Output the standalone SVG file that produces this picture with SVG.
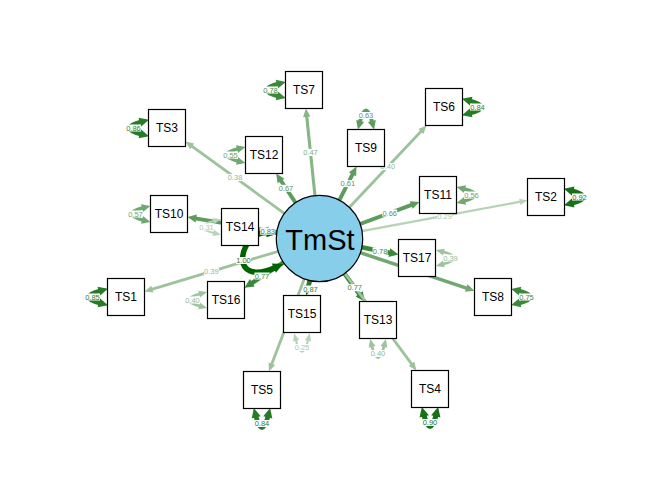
<svg xmlns="http://www.w3.org/2000/svg" width="672" height="480" viewBox="0 0 672 480">
  <style>
    .bg { fill: #ffffff; }
    .n rect { fill: #ffffff; stroke: #000000; stroke-width: 1.2; }
    .n text { font-family: "Liberation Sans", Arial, sans-serif; font-size: 12px; text-anchor: middle; fill: #000000; }
    #TmSt circle { fill: #87ceeb; stroke: #000000; stroke-width: 1.2; }
    #TmSt text { font-family: "Liberation Sans", Arial, sans-serif; font-size: 29px; text-anchor: middle; fill: #000000; }
    .c line, .c path, .c use { fill: none; stroke-linecap: butt; }
    .k1 { stroke: #b8d4b8; stroke-width: 2.3; }
    .k2 { stroke: #9cc39c; stroke-width: 2.8; }
    .k3 { stroke: #87b687; stroke-width: 3.1; }
    .k4 { stroke: #70a870; stroke-width: 3.5; }
    .k5 { stroke: #5c9c5c; stroke-width: 3.9; }
    .k6 { stroke: #3b883b; stroke-width: 4.5; }
    .k7 { stroke: #267b26; stroke-width: 4.8; }
    .k8 { stroke: #177217; stroke-width: 5.1; }
    .k9 { stroke: #006400; stroke-width: 5.5; }
    .e .k1 { marker-end: url(#m1); } .e .k2 { marker-end: url(#m2); } .e .k3 { marker-end: url(#m3); }
    .e .k4 { marker-end: url(#m4); } .e .k5 { marker-end: url(#m5); } .e .k6 { marker-end: url(#m6); }
    .e .k7 { marker-end: url(#m7); }
    .r .k1 { marker-start: url(#m1); marker-end: url(#m1); }
    .r .k2 { marker-start: url(#m2); marker-end: url(#m2); }
    .r .k4 { marker-start: url(#m4); marker-end: url(#m4); }
    .r .k5 { marker-start: url(#m5); marker-end: url(#m5); }
    .r .k6 { marker-start: url(#m6); marker-end: url(#m6); }
    .r .k7 { marker-start: url(#m7); marker-end: url(#m7); }
    .r .k8 { marker-start: url(#m8); marker-end: url(#m8); }
    .r .k9 { marker-start: url(#m9); marker-end: url(#m9); }
    .lab text { font-family: "Liberation Sans", Arial, sans-serif; font-size: 7.5px; text-anchor: middle; }
    .t1 { fill: #a9c9a9; } .t2 { fill: #92bb92; } .t3 { fill: #80b080; } .t4 { fill: #6ca46c; }
    .t5 { fill: #5a985a; } .t6 { fill: #3f8a3f; } .t7 { fill: #2e7e2e; } .t8 { fill: #237523; } .t9 { fill: #3d6b1a; }
  </style>
  <defs>
    <marker id="m1" markerUnits="userSpaceOnUse" orient="auto-start-reverse" overflow="visible" markerWidth="10" markerHeight="10" refX="2.34" refY="0"><path d="M0,-3.2L7.8,0L0,3.2Z" fill="#b8d4b8"/></marker>
    <marker id="m2" markerUnits="userSpaceOnUse" orient="auto-start-reverse" overflow="visible" markerWidth="10" markerHeight="10" refX="2.46" refY="0"><path d="M0,-3.5L8.2,0L0,3.5Z" fill="#9cc39c"/></marker>
    <marker id="m3" markerUnits="userSpaceOnUse" orient="auto-start-reverse" overflow="visible" markerWidth="10" markerHeight="10" refX="2.52" refY="0"><path d="M0,-3.7L8.4,0L0,3.7Z" fill="#87b687"/></marker>
    <marker id="m4" markerUnits="userSpaceOnUse" orient="auto-start-reverse" overflow="visible" markerWidth="10" markerHeight="10" refX="2.61" refY="0"><path d="M0,-3.9L8.7,0L0,3.9Z" fill="#70a870"/></marker>
    <marker id="m5" markerUnits="userSpaceOnUse" orient="auto-start-reverse" overflow="visible" markerWidth="10" markerHeight="10" refX="2.67" refY="0"><path d="M0,-4.1L8.9,0L0,4.1Z" fill="#5c9c5c"/></marker>
    <marker id="m6" markerUnits="userSpaceOnUse" orient="auto-start-reverse" overflow="visible" markerWidth="10" markerHeight="10" refX="2.79" refY="0"><path d="M0,-4.45L9.3,0L0,4.45Z" fill="#3b883b"/></marker>
    <marker id="m7" markerUnits="userSpaceOnUse" orient="auto-start-reverse" overflow="visible" markerWidth="10" markerHeight="10" refX="2.88" refY="0"><path d="M0,-4.65L9.6,0L0,4.65Z" fill="#267b26"/></marker>
    <marker id="m8" markerUnits="userSpaceOnUse" orient="auto-start-reverse" overflow="visible" markerWidth="10" markerHeight="10" refX="2.91" refY="0"><path d="M0,-4.8L9.7,0L0,4.8Z" fill="#177217"/></marker>
    <marker id="m9" markerUnits="userSpaceOnUse" orient="auto-start-reverse" overflow="visible" markerWidth="10" markerHeight="10" refX="3" refY="0"><path d="M0,-5L10,0L0,5Z" fill="#006400"/></marker>
    <!-- variance loop drawn to the right of a box edge at the origin -->
    <path id="res" d="M6,-6.5Q32,0 6,6.5" fill="none"/>
  </defs>

  <rect class="bg" x="0" y="0" width="672" height="480"/>

  <g id="connectors" class="c">
    <!-- loadings from the latent factor -->
    <g class="e">
      <line class="k3" x1="319.5" y1="239" x2="306.5" y2="114.35"/>
      <line class="k2" x1="319.5" y1="239" x2="190.1" y2="144.9"/>
      <line class="k5" x1="319.5" y1="239" x2="279.6" y2="178.7"/>
      <line class="k5" x1="319.5" y1="239" x2="353.7" y2="172.05"/>
      <line class="k2" x1="319.5" y1="239" x2="422.6" y2="129.7"/>
      <line class="k5" x1="319.5" y1="239" x2="413.7" y2="204.1"/>
      <line class="k1" x1="319.5" y1="239" x2="522.1" y2="201.4"/>
      <line class="k6" x1="319.5" y1="239" x2="392.1" y2="253.2"/>
      <line class="k4" x1="319.5" y1="239" x2="468.7" y2="288.9"/>
      <line class="k6" x1="319.5" y1="239" x2="360.8" y2="296.2"/>
      <line class="k2" x1="319.5" y1="239" x2="413" y2="365.9"/>
      <line class="k7" x1="319.5" y1="239" x2="307.8" y2="289"/>
      <line class="k2" x1="319.5" y1="239" x2="271" y2="366.1"/>
      <line class="k6" x1="319.5" y1="239" x2="249.95" y2="284.3"/>
      <line class="k2" x1="319.5" y1="239" x2="150" y2="289.85"/>
      <line class="k7" x1="319.5" y1="239" x2="265.1" y2="230.8"/>
      <line class="k5" x1="319.5" y1="239" x2="193.6" y2="218.1"/>
    </g>

    <!-- variances (double-headed loops) -->
    <g class="r">
      <path class="k9" d="M270.1,232.9C240,228 225,290 276.6,266.9"/>
      <use href="#res" class="k6" transform="translate(285.5,90) rotate(180)"/>
      <use href="#res" class="k7" transform="translate(148.5,128) rotate(180)"/>
      <use href="#res" class="k4" transform="translate(245.5,155) rotate(180)"/>
      <use href="#res" class="k5" transform="translate(366,129.5) rotate(-90)"/>
      <use href="#res" class="k7" transform="translate(462.5,107)"/>
      <use href="#res" class="k4" transform="translate(456.5,195)"/>
      <use href="#res" class="k8" transform="translate(564.5,197)"/>
      <use href="#res" class="k2" transform="translate(435.5,258)"/>
      <use href="#res" class="k6" transform="translate(511.5,297)"/>
      <use href="#res" class="k2" transform="translate(378,338.5) rotate(90)"/>
      <use href="#res" class="k8" transform="translate(430,407.5) rotate(90)"/>
      <use href="#res" class="k1" transform="translate(302,332.5) rotate(90)"/>
      <use href="#res" class="k7" transform="translate(262,408.5) rotate(90)"/>
      <use href="#res" class="k2" transform="translate(207.5,300) rotate(180)"/>
      <use href="#res" class="k7" transform="translate(107.5,297) rotate(180)"/>
      <use href="#res" class="k4" transform="translate(150.5,214) rotate(180)"/>
      <use href="#res" class="k1" transform="translate(221.5,227) rotate(180)"/>
    </g>

    <!-- edge labels -->
    <g class="lab">
      <rect class="bg" x="303" y="148.9" width="15" height="7"/><text class="t3" x="310.5" y="155.1">0.47</text>
      <rect class="bg" x="227.6" y="174.1" width="15" height="7"/><text class="t2" x="235.1" y="180.3">0.38</text>
      <rect class="bg" x="278.5" y="184.8" width="15" height="7"/><text class="t5" x="286" y="191">0.67</text>
      <rect class="bg" x="340.3" y="180.1" width="15" height="7"/><text class="t5" x="347.8" y="186.3">0.61</text>
      <rect class="bg" x="380.3" y="163.1" width="15" height="7"/><text class="t2" x="387.8" y="169.3">0.40</text>
      <rect class="bg" x="382.2" y="209.5" width="15" height="7"/><text class="t5" x="389.7" y="215.7">0.66</text>
      <rect class="bg" x="437.1" y="212.3" width="15" height="7"/><text class="t1" x="444.6" y="218.5">0.29</text>
      <rect class="bg" x="372.6" y="247.3" width="15" height="7"/><text class="t6" x="380.1" y="253.5">0.78</text>
      <rect class="bg" x="347.2" y="284.2" width="15" height="7"/><text class="t6" x="354.7" y="290.4">0.77</text>
      <rect class="bg" x="303" y="285.5" width="15" height="7"/><text class="t7" x="310.5" y="291.7">0.87</text>
      <rect class="bg" x="254.5" y="272.5" width="15" height="7"/><text class="t6" x="262" y="278.7">0.77</text>
      <rect class="bg" x="203.9" y="267.9" width="15" height="7"/><text class="t2" x="211.4" y="274.1">0.39</text>
      <rect class="bg" x="260.2" y="227.7" width="15" height="7"/><text class="t7" x="267.7" y="233.9">0.83</text>
      <rect class="bg" x="236" y="257" width="15" height="7"/><text class="t9" x="243.5" y="263.2">1.00</text>

      <rect class="bg" x="263" y="86.5" width="15" height="7"/><text class="t6" x="270.5" y="92.7">0.78</text>
      <rect class="bg" x="126" y="124.5" width="15" height="7"/><text class="t7" x="133.5" y="130.7">0.86</text>
      <rect class="bg" x="223" y="151.5" width="15" height="7"/><text class="t4" x="230.5" y="157.7">0.55</text>
      <rect class="bg" x="358.5" y="112" width="15" height="7"/><text class="t5" x="366" y="118.2">0.63</text>
      <rect class="bg" x="470" y="103.5" width="15" height="7"/><text class="t7" x="477.5" y="109.7">0.84</text>
      <rect class="bg" x="464" y="191.5" width="15" height="7"/><text class="t4" x="471.5" y="197.7">0.56</text>
      <rect class="bg" x="572" y="193.5" width="15" height="7"/><text class="t8" x="579.5" y="199.7">0.92</text>
      <rect class="bg" x="443" y="254.5" width="15" height="7"/><text class="t2" x="450.5" y="260.7">0.39</text>
      <rect class="bg" x="519" y="293.5" width="15" height="7"/><text class="t6" x="526.5" y="299.7">0.75</text>
      <rect class="bg" x="370.5" y="350" width="15" height="7"/><text class="t2" x="378" y="356.2">0.40</text>
      <rect class="bg" x="422.5" y="419" width="15" height="7"/><text class="t8" x="430" y="425.2">0.90</text>
      <rect class="bg" x="294.5" y="344" width="15" height="7"/><text class="t1" x="302" y="350.2">0.25</text>
      <rect class="bg" x="254.5" y="420" width="15" height="7"/><text class="t7" x="262" y="426.2">0.84</text>
      <rect class="bg" x="185" y="296.5" width="15" height="7"/><text class="t2" x="192.5" y="302.7">0.40</text>
      <rect class="bg" x="85" y="293.5" width="15" height="7"/><text class="t7" x="92.5" y="299.7">0.85</text>
      <rect class="bg" x="128" y="210.5" width="15" height="7"/><text class="t4" x="135.5" y="216.7">0.57</text>
      <rect class="bg" x="199" y="223.5" width="15" height="7"/><text class="t1" x="206.5" y="229.7">0.31</text>
    </g>
  </g>

  <!-- latent factor -->
  <g id="TmSt">
    <circle cx="319.5" cy="238.5" r="43.2"/>
    <text x="320" y="249.5">TmSt</text>
  </g>

  <!-- observed items -->
  <g id="TS7" class="n"><rect x="285.5" y="71.5" width="37" height="37"/><text x="304" y="94.3">TS7</text></g>
  <g id="TS3" class="n"><rect x="148.5" y="109.5" width="37" height="37"/><text x="167" y="132.3">TS3</text></g>
  <g id="TS12" class="n"><rect x="245.5" y="136.5" width="37" height="37"/><text x="264" y="159.3">TS12</text></g>
  <g id="TS6" class="n"><rect x="425.5" y="88.5" width="37" height="37"/><text x="444" y="111.3">TS6</text></g>
  <g id="TS9" class="n"><rect x="347.5" y="129.5" width="37" height="37"/><text x="366" y="152.3">TS9</text></g>
  <g id="TS10" class="n"><rect x="150.5" y="195.5" width="37" height="37"/><text x="169" y="218.3">TS10</text></g>
  <g id="TS14" class="n"><rect x="221.5" y="208.5" width="37" height="37"/><text x="240" y="231.3">TS14</text></g>
  <g id="TS1" class="n"><rect x="107.5" y="278.5" width="37" height="37"/><text x="126" y="301.3">TS1</text></g>
  <g id="TS16" class="n"><rect x="207.5" y="281.5" width="37" height="37"/><text x="226" y="304.3">TS16</text></g>
  <g id="TS11" class="n"><rect x="419.5" y="176.5" width="37" height="37"/><text x="438" y="199.3">TS11</text></g>
  <g id="TS2" class="n"><rect x="527.5" y="178.5" width="37" height="37"/><text x="546" y="201.3">TS2</text></g>
  <g id="TS17" class="n"><rect x="398.5" y="239.5" width="37" height="37"/><text x="417" y="262.3">TS17</text></g>
  <g id="TS8" class="n"><rect x="474.5" y="278.5" width="37" height="37"/><text x="493" y="301.3">TS8</text></g>
  <g id="TS15" class="n"><rect x="283.5" y="295.5" width="37" height="37"/><text x="302" y="318.3">TS15</text></g>
  <g id="TS13" class="n"><rect x="359.5" y="301.5" width="37" height="37"/><text x="378" y="324.3">TS13</text></g>
  <g id="TS5" class="n"><rect x="243.5" y="371.5" width="37" height="37"/><text x="262" y="394.3">TS5</text></g>
  <g id="TS4" class="n"><rect x="411.5" y="370.5" width="37" height="37"/><text x="430" y="393.3">TS4</text></g>
</svg>
